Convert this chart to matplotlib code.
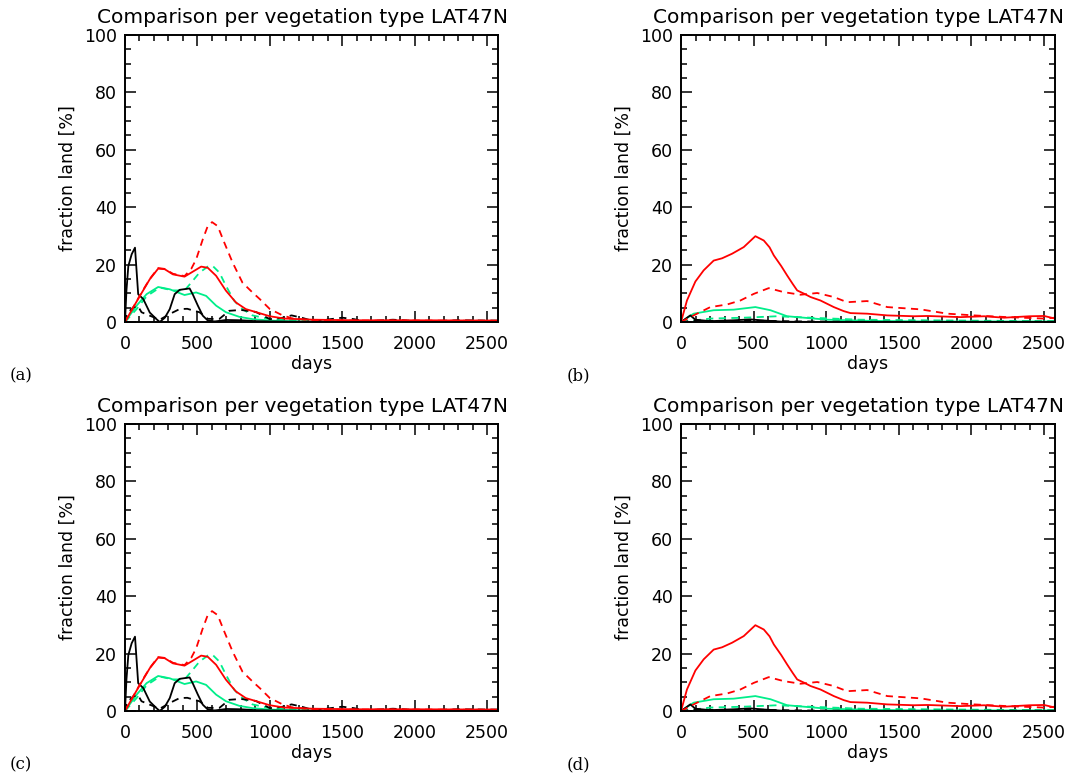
import numpy as np
import matplotlib
matplotlib.use("Agg")
import matplotlib.pyplot as plt
from matplotlib.ticker import MultipleLocator

title = "Comparison per vegetation type LAT47N"
panel_tags = ["(a)", "(b)", "(c)", "(d)"]

RED = "#ff0000"
GREEN = "#00ee8a"
BLACK = "#000000"

# ---- case 1 (panels a and c) ----
a_black_d = [0, 10, 23, 46, 69, 91, 126, 171, 217, 240, 275, 309, 343, 377, 446, 469, 503, 537, 572, 620, 700, 800, 900, 1000, 1200, 1500, 2000, 2575]
a_black_v = [0, 11, 19.5, 23.6, 25.9, 9.7, 8, 3.3, 1, 0, 1.5, 4.5, 9.7, 11.2, 11.7, 9.5, 5.7, 2.2, 0.5, 0.2, 0.7, 0.6, 0.3, 0.2, 0.1, 0.1, 0.1, 0.1]

a_blackd_d = [0, 11, 57, 90, 114, 171, 240, 309, 377, 430, 514, 572, 652, 720, 800, 903, 1000, 1080, 1150, 1220, 1300, 1420, 1500, 1580, 1650, 1850, 1950, 2100, 2300, 2500, 2575]
a_blackd_v = [0, 2.8, 5.1, 5.5, 3.4, 2.2, 0.8, 2.8, 4.5, 4.6, 3.4, 1.1, 1.1, 3.9, 4.2, 3.5, 1.0, 1.4, 2.3, 1.5, 0.3, 1.0, 1.5, 1.0, 0.2, 0.8, 0.5, 0.3, 0.6, 0.5, 0.5]

a_red_d = [0, 50, 103, 171, 229, 274, 331, 411, 457, 526, 571, 629, 697, 766, 834, 914, 1000, 1100, 1300, 1600, 2000, 2575]
a_red_v = [0, 4.5, 9.1, 14.9, 18.6, 18.4, 16.6, 15.8, 17.2, 19.3, 18.9, 16.1, 10.9, 6.8, 4.5, 3.3, 2.0, 1.2, 0.8, 0.6, 0.6, 0.5]

a_redd_d = [0, 50, 103, 171, 229, 274, 331, 411, 457, 491, 537, 571, 601, 640, 686, 743, 811, 880, 930, 1000, 1080, 1150, 1250, 1400, 2000, 2575]
a_redd_v = [0, 4.5, 9.3, 15.0, 18.8, 18.5, 16.8, 16.0, 18.5, 21.8, 28.8, 33.4, 34.8, 33.4, 27.6, 20.7, 13.7, 10.3, 8.0, 4.5, 2.5, 1.3, 0.8, 0.5, 0.5, 0.4]

a_green_d = [0, 80, 149, 229, 309, 411, 491, 560, 629, 697, 789, 880, 1000, 1200, 1500, 2575]
a_green_v = [0, 5.7, 9.7, 12.2, 11.4, 9.4, 10.3, 9.1, 5.7, 3.4, 1.8, 1.0, 0.5, 0.2, 0.1, 0.1]

a_greend_d = [0, 80, 150, 240, 330, 411, 457, 514, 571, 606, 652, 697, 754, 811, 880, 1000, 1200, 1500, 2575]
a_greend_v = [0, 4.5, 9.0, 12.0, 11.0, 11.0, 13.7, 17.2, 19.3, 19.5, 17.2, 12.6, 7.4, 4.5, 2.3, 1.0, 0.5, 0.3, 0.3]

# ---- case 2 (panels b and d) ----
b_red_d = [0, 41, 99, 156, 225, 283, 352, 432, 512, 570, 610, 639, 690, 731, 770, 800, 850, 892, 960, 1052, 1120, 1167, 1282, 1420, 1604, 1696, 1926, 2087, 2224, 2400, 2500, 2575]
b_red_v = [0, 7.5, 14.1, 18.0, 21.4, 22.2, 23.8, 26.1, 29.9, 28.4, 26.0, 23.2, 19.5, 16.2, 13.2, 11.0, 9.8, 8.7, 7.5, 5.2, 3.8, 3.1, 2.9, 2.3, 2.0, 2.1, 1.7, 2.0, 1.5, 2.0, 2.1, 1.2]

b_redd_d = [0, 87, 202, 317, 409, 501, 604, 708, 823, 938, 1052, 1144, 1282, 1420, 1650, 1834, 2018, 2247, 2500, 2575]
b_redd_v = [0, 2.3, 5.2, 6.1, 7.5, 9.8, 11.8, 10.4, 9.5, 10.1, 8.7, 6.9, 7.3, 5.2, 4.4, 2.9, 2.3, 1.7, 1.2, 1.5]

b_green_d = [0, 87, 225, 363, 512, 616, 731, 846, 1007, 1300, 1700, 2575]
b_green_v = [0, 2.9, 4.1, 4.3, 5.2, 4.1, 2.0, 1.5, 0.8, 0.4, 0.2, 0.2]

b_greend_d = [0, 202, 432, 662, 892, 1236, 1696, 2200, 2575]
b_greend_v = [0, 1.2, 1.5, 2.0, 1.5, 0.8, 0.6, 0.4, 0.3]

b_black_d = [0, 64, 99, 200, 363, 478, 547, 700, 1000, 2575]
b_black_v = [0, 2.3, 0.8, 0.3, 0.6, 0.9, 0.6, 0.1, 0.0, 0.0]

b_blackd_d = [0, 100, 300, 500, 800, 1200, 2575]
b_blackd_v = [0, 0.5, 0.3, 0.5, 0.2, 0.1, 0.1]

case_a = [
    (a_green_d, a_green_v, GREEN, "-"),
    (a_greend_d, a_greend_v, GREEN, "--"),
    (a_black_d, a_black_v, BLACK, "-"),
    (a_blackd_d, a_blackd_v, BLACK, "--"),
    (a_redd_d, a_redd_v, RED, "--"),
    (a_red_d, a_red_v, RED, "-"),
]
case_b = [
    (b_green_d, b_green_v, GREEN, "-"),
    (b_greend_d, b_greend_v, GREEN, "--"),
    (b_black_d, b_black_v, BLACK, "-"),
    (b_blackd_d, b_blackd_v, BLACK, "--"),
    (b_redd_d, b_redd_v, RED, "--"),
    (b_red_d, b_red_v, RED, "-"),
]

W, H = 1090, 776
fig = plt.figure(figsize=(W / 100, H / 100), dpi=100)


def px_axes(left, top, right, bottom):
    return fig.add_axes([left / W, 1 - bottom / H, (right - left) / W, (bottom - top) / H])


def draw_panel(ax, series):
    for d, v, c, ls in series:
        ax.plot(d, v, color=c, ls=ls, lw=1.3, dashes=(4, 3) if ls == "--" else (None, None))
    ax.set_xlim(0, 2575)
    ax.set_ylim(0, 100)
    ax.xaxis.set_major_locator(MultipleLocator(500))
    ax.xaxis.set_minor_locator(MultipleLocator(100))
    ax.yaxis.set_major_locator(MultipleLocator(20))
    ax.yaxis.set_minor_locator(MultipleLocator(5))
    ax.tick_params(which="both", direction="in", top=True, right=True, width=1.1, labelsize=12.5)
    ax.tick_params(which="major", length=8)
    ax.tick_params(which="minor", length=4)
    ax.tick_params(axis="x", pad=9)
    ax.tick_params(axis="y", pad=6)
    for s in ax.spines.values():
        s.set_linewidth(1.4)
    ax.set_xlabel("days", fontsize=12.5, labelpad=2)
    ax.set_ylabel("fraction land [%]", fontsize=12.5, labelpad=5)
    ax.text(0.475, 1.06, title, transform=ax.transAxes, ha="center", va="center", fontsize=14.5)


boxes = [(125, 35, 498, 322), (681, 35, 1055, 322), (125, 424, 498, 711), (681, 424, 1055, 711)]
cases = [case_a, case_b, case_a, case_b]
tag_pos = [(21, 376), (578, 376), (21, 765), (578, 765)]

for box, case, tag, (tx, ty) in zip(boxes, cases, panel_tags, tag_pos):
    ax = px_axes(*box)
    draw_panel(ax, case)
    fig.text(tx / W, 1 - ty / H, tag, ha="center", va="center", fontsize=12, family="DejaVu Serif")

fig.savefig("out.png", dpi=100)
